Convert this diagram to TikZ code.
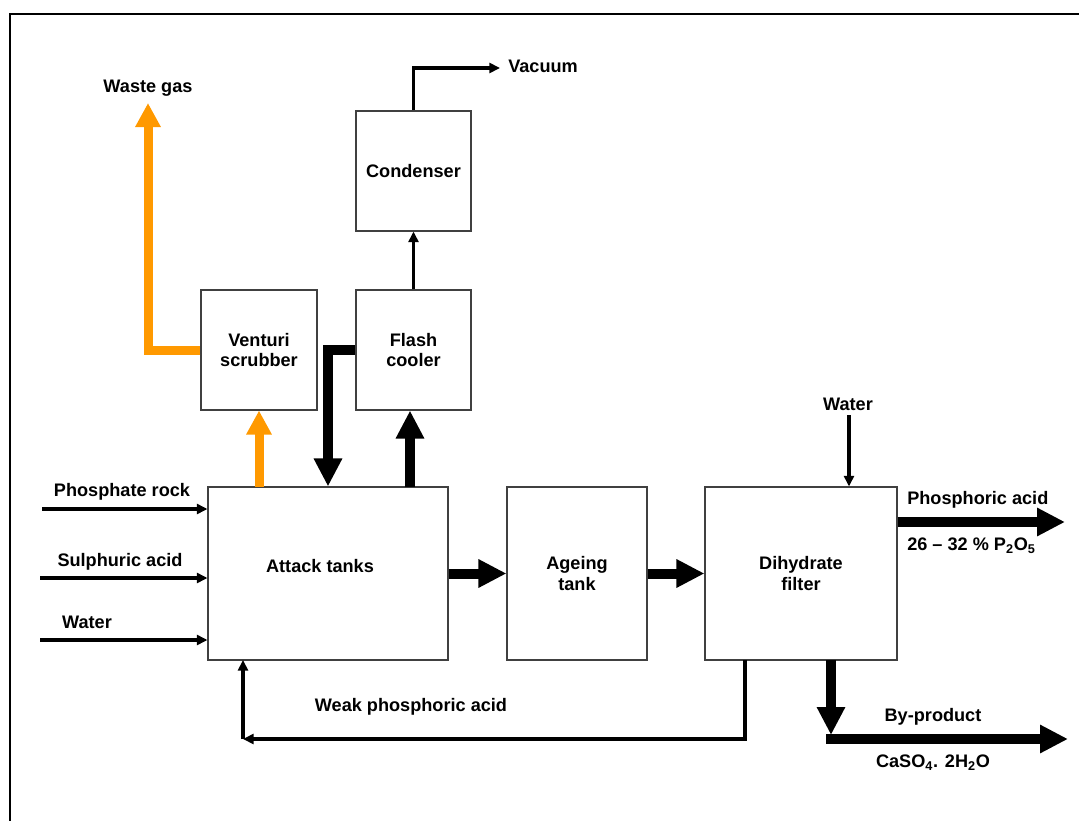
\documentclass[tikz,border=0pt]{standalone}
\usepackage{fontspec}
\setmainfont{Liberation Sans}
\usetikzlibrary{arrows.meta}
\definecolor{gasorange}{HTML}{FF9900}
\begin{document}
\begin{tikzpicture}[x=0.75pt,y=-0.75pt,
  font=\fontsize{13.6}{15.5}\selectfont\bfseries,
  unit/.style={draw=black!75,line width=0.8pt,inner sep=0pt,align=center},
  lbl/.style={inner sep=0pt,align=center},
  thin flow/.style={line width=2.4pt,-{Triangle[length=8pt,width=7.5pt]}},
  thick flow/.style={line width=7.5pt,-{Triangle[length=21pt,width=20pt]}},
  gas flow/.style={draw=gasorange,line width=6.75pt,-{Triangle[length=18pt,width=18pt]}},
]
\useasboundingbox (0,0) rectangle (1079,821);
% frame
\draw[line width=1.5pt] (10,821) -- (10,14) -- (1079,14);

% process units
\node[unit,minimum width=86.25pt,minimum height=90pt] (condenser) at (413.5,171) {Condenser};
\node[unit,minimum width=86.25pt,minimum height=90pt] (flash) at (413.5,350) {Flash\\cooler};
\node[unit,minimum width=87pt,minimum height=90pt] (venturi) at (259,350) {Venturi\\scrubber};
\node[unit,minimum width=180pt,minimum height=129.75pt] (attack) at (328,573.5) {};
\node[lbl] (attacklbl) at (320,566) {Attack tanks};
\node[unit,minimum width=105pt,minimum height=129.75pt] (ageing) at (577,573.5) {Ageing\\tank};
\node[unit,minimum width=144pt,minimum height=129.75pt] (filter) at (801,573.5) {Dihydrate\\filter};

% labels
\node[lbl] (wastegas) at (148,88) {Waste gas};
\node[lbl,anchor=west] (vacuum) at (508,66) {Vacuum};
\node[lbl] (rocklbl) at (122,492) {Phosphate rock};
\node[lbl] (sulphlbl) at (120,562) {Sulphuric acid};
\node[lbl] (waterlbl) at (87,622) {Water};
\node[lbl] (fwaterlbl) at (848,404) {Water};
\node[lbl,anchor=west] (acidlbl) at (907,500) {Phosphoric acid};
\node[lbl,anchor=west] (conclbl) at (907,546) {26 -- 32 \% P\textsubscript{2}O\textsubscript{5}};
\node[lbl] (bylbl) at (933,717) {By-product};
\node[lbl] (gypsumlbl) at (933,763) {CaSO\textsubscript{4}. 2H\textsubscript{2}O};
\node[lbl] (weaklbl) at (411,707) {Weak phosphoric acid};

% free ends and taps
\coordinate (vacend) at (500,68);
\coordinate (wasteturn) at (148,103);
\coordinate (rockin) at (42,509);
\coordinate (sulphin) at (40,578);
\coordinate (waterin) at (40,640);
\coordinate (fwaterin) at (849,415);
\coordinate (gasout) at (259,487);
\coordinate (slurryout) at (410,487);
\coordinate (acidend) at (1065,522);
\coordinate (cakeout) at (831,660);
\coordinate (cakedown) at (831,735);
\coordinate (cakestart) at (826,739);
\coordinate (cakeend) at (1068,739);
\coordinate (weakout) at (745,660);
\coordinate (weakcorner) at (243,739);
\coordinate (weakin) at (243,660);

% vapour line
\draw[thin flow] (flash.north) -- (condenser.south);
\draw[thin flow] (condenser.north) |- (vacend);

% off-gas to scrubber and stack
\draw[gas flow] (gasout) -- (gasout |- venturi.south);
\draw[gas flow] (venturi.west) -| (wasteturn);

% slurry loop through flash cooler
\draw[thick flow] (slurryout) -- (slurryout |- flash.south);
\draw[thick flow] (flash.west) -| (attack.north);

% feeds
\draw[thin flow] (rockin) -- (rockin -| attack.west);
\draw[thin flow] (sulphin) -- (sulphin -| attack.west);
\draw[thin flow] (waterin) -- (waterin -| attack.west);
\draw[thin flow] (fwaterin) -- (fwaterin |- filter.north);

% main train
\draw[thick flow] (attack.east) -- (ageing.west);
\draw[thick flow] (ageing.east) -- (filter.west);
\draw[thick flow] (filter.east |- acidend) -- (acidend);
\draw[thick flow] (cakeout) -- (cakedown);
\draw[thick flow] (cakestart) -- (cakeend);

% weak acid recycle
\draw[thin flow] (weakout) |- (weakcorner);
\draw[thin flow] (weakcorner) -- (weakin);
\end{tikzpicture}
\end{document}
